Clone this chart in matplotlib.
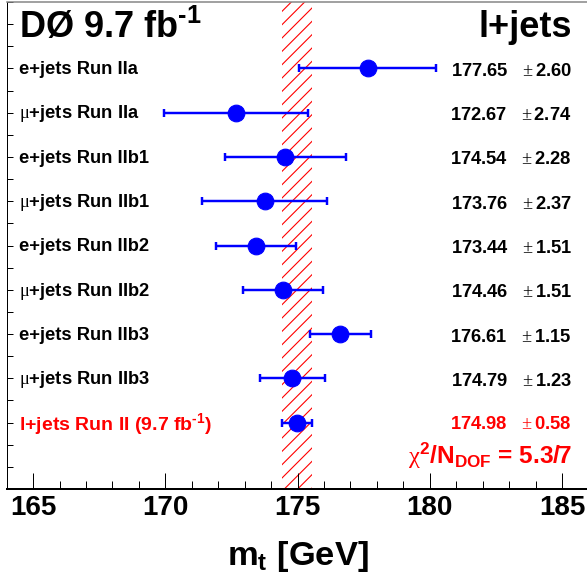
import matplotlib
matplotlib.use("Agg")
import matplotlib.pyplot as plt
from matplotlib.ticker import MultipleLocator

# ---------------- data ----------------
labels = [r'e+jets Run IIa', r'$\mathrm{\mu}$+jets Run IIa',
          r'e+jets Run IIb1', r'$\mathrm{\mu}$+jets Run IIb1',
          r'e+jets Run IIb2', r'$\mathrm{\mu}$+jets Run IIb2',
          r'e+jets Run IIb3', r'$\mathrm{\mu}$+jets Run IIb3',
          'l+jets Run II (9.7 fb$^{\\mathbf{\u2010 1}}$)']
mass = [177.65, 172.67, 174.54, 173.76, 173.44, 174.46, 176.61, 174.79, 174.98]
err = [2.60, 2.74, 2.28, 2.37, 1.51, 1.51, 1.15, 1.23, 0.58]
combined_mass = 174.98
combined_err = 0.58
xticks_major = [165, 170, 175, 180, 185]

# ---------------- style ----------------
plt.rcParams['font.family'] = ['Liberation Sans', 'DejaVu Sans']
plt.rcParams['mathtext.fontset'] = 'custom'
plt.rcParams['mathtext.rm'] = 'Liberation Serif'
plt.rcParams['mathtext.bf'] = 'Liberation Sans:bold'
plt.rcParams['mathtext.it'] = 'Liberation Sans:italic'
plt.rcParams['mathtext.sf'] = 'Liberation Sans'
plt.rcParams['hatch.linewidth'] = 1.0

DPI = 80
fig = plt.figure(figsize=(587 / DPI, 580 / DPI), dpi=DPI)
ax = fig.add_axes([6.7 / 587, 91 / 580, (588.5 - 6.7) / 587, (489 - 2) / 580])
ax.set_xlim(164, 186)
ax.set_ylim(0, 11)

BLUE = '#0000FF'
RED = '#FF0000'

n = len(mass)
ypos = [9.5 - i for i in range(n)]

# combined band
ax.fill_betweenx([0, 11], combined_mass - combined_err, combined_mass + combined_err,
                 facecolor='none', edgecolor=RED, hatch='//', linewidth=0, zorder=1)

# measurements
ax.errorbar(mass, ypos, xerr=err, fmt='o', color=BLUE, ecolor=BLUE,
            markersize=15, elinewidth=2.2, capsize=3.9, capthick=2.2, zorder=3)

# text labels
x_lab = 164.45
x_val = 185.37
for i in range(n):
    last = (i == n - 1)
    col = RED if last else 'black'
    off_l = 0.167 if last else 0.13
    off_v = 0.15 if last else 0.17
    ax.text(x_lab, ypos[i] - off_l, labels[i], fontsize=17.5 if last else 16.5,
            fontweight='bold', color=col, ha='left', va='baseline', zorder=4)
    ax.text(x_val, ypos[i] - off_v,
            f'{mass[i]:.2f}   ' + r'$\mathrm{\pm}\,$' + f'{err[i]:.2f}',
            fontsize=16.5, fontweight='bold', color=col, ha='right', va='baseline', zorder=4)

ax.text(x_lab, 10.19, 'DØ 9.7 fb$^{\\mathbf{\u2010 1}}$', fontsize=32.5, fontweight='bold',
        ha='left', va='baseline')
ax.text(x_val, 10.22, 'l+jets', fontsize=32.5, fontweight='bold', ha='right', va='baseline')
ax.text(x_val, 0.565, r'$\mathrm{\chi}^{\mathbf{2}}$/N$_{\mathbf{DOF}}$ = 5.3/7', fontsize=22,
        fontweight='bold', color=RED, ha='right', va='baseline')

# axes styling
ax.set_xticks(xticks_major)
ax.xaxis.set_minor_locator(MultipleLocator(1))
ax.set_yticks([])
ax.yaxis.set_minor_locator(MultipleLocator(0.5))
ax.tick_params(axis='x', which='major', direction='in', length=14.4, width=0.9,
               labelsize=25, pad=5, top=False)
ax.tick_params(axis='x', which='minor', direction='in', length=7.2, width=0.9, top=False)
ax.tick_params(axis='y', which='minor', direction='in', length=5.4, width=0.9, right=False)
for lab in ax.get_xticklabels():
    lab.set_fontweight('bold')
ax.spines['bottom'].set_linewidth(1.8)
ax.spines['left'].set_linewidth(0.9)
ax.spines['top'].set_color('#888888')
ax.spines['top'].set_linewidth(1.4)
ax.spines['right'].set_visible(False)

fig.text(297.6 / 587, 15 / 580, r'm$_{\mathbf{t}}$ [GeV]', fontsize=31, fontweight='bold',
         ha='center', va='baseline')

fig.savefig('out.png', dpi=DPI)
